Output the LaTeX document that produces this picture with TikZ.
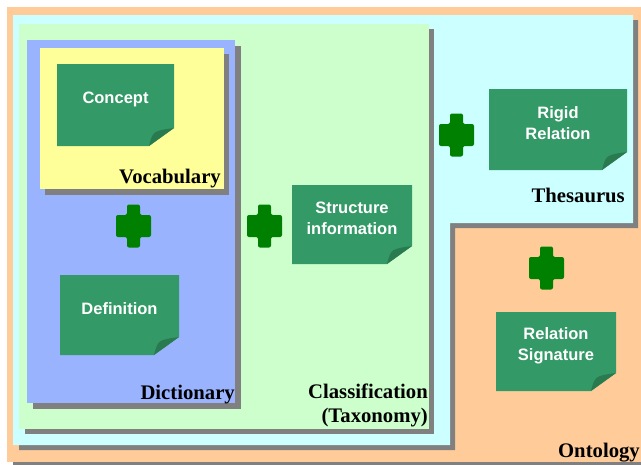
\documentclass[tikz,border=0pt]{standalone}
\usepackage{fontspec}
\setmainfont{Liberation Serif}
\setsansfont{Liberation Sans}
\usepackage{tikz}
\usetikzlibrary{positioning,calc}
\definecolor{ontocol}{HTML}{FFCC99}
\definecolor{thescol}{HTML}{CCFFFF}
\definecolor{classcol}{HTML}{CCFFCC}
\definecolor{dictcol}{HTML}{99B3FF}
\definecolor{vocabcol}{HTML}{FFFF99}
\definecolor{notecol}{HTML}{339966}
\definecolor{foldcol}{HTML}{2A7A50}
\definecolor{pluscol}{HTML}{008000}
\tikzstyle{shadow}=[fill=gray]
\tikzstyle{boxlabel}=[anchor=base east,inner sep=0pt,font=\bfseries\fontsize{20.7}{24}\selectfont]
\tikzstyle{notetext}=[text=white,align=center,inner sep=0pt,font=\sffamily\bfseries\fontsize{16.5}{21}\selectfont]
\tikzstyle{plus}=[fill=pluscol,rounded corners=2pt]

% name, x1, y1, x2, y2, text
\newcommand{\stickynote}[6]{%
  \fill[notecol] (#2,#3) -- (#4,#3) -- (#4,#5-18) -- (#4-25,#5) -- (#2,#5) -- cycle;
  \fill[foldcol] (#4,#5-18) -- (#4-25,#5) .. controls (#4-21,#5-15) .. (#4,#5-18);
  \node[notetext] (#1) at ($(#2,#3)!0.5!(#4,#5)+(0,-6)$) {#6};
}
% name, x, y
\newcommand{\plussign}[3]{%
  \coordinate (#1) at (#2,#3);
  \fill[plus,shift={(#1)}] (-6.5,-21.5) -- (6.5,-21.5) -- (6.5,-11) -- (17.5,-11)
    -- (17.5,11) -- (6.5,11) -- (6.5,21.5) -- (-6.5,21.5) -- (-6.5,11)
    -- (-17.5,11) -- (-17.5,-11) -- (-6.5,-11) -- cycle;
}

\begin{document}
\begin{tikzpicture}[x=1pt,y=-1pt]
  \useasboundingbox (0,0) rectangle (641,464);

  % ontology
  \fill[shadow] (13,13) rectangle (670,470);
  \fill[ontocol] (7,7) rectangle (664,462);

  % thesaurus
  \fill[shadow] (19,20) -- (638,20) -- (638,228) -- (455,228) -- (455,450) -- (19,450) -- cycle;
  \fill[thescol] (13,15) -- (633,15) -- (633,223) -- (450,223) -- (450,445) -- (13,445) -- cycle;

  % classification
  \fill[shadow] (25,29) rectangle (434,434);
  \fill[classcol] (19,24) rectangle (429,429);

  % dictionary
  \fill[shadow] (33,46) rectangle (241,409);
  \fill[dictcol] (27,40) rectangle (235,403);

  % vocabulary
  \fill[shadow] (45,54) rectangle (229,195);
  \fill[vocabcol] (40,48) rectangle (224,189);

  % notes
  \stickynote{concept}{57}{64}{174}{146}{Concept}
  \stickynote{definition}{60}{275}{179}{355}{Definition}
  \stickynote{structure}{292}{185}{412}{264}{Structure\\information}
  \stickynote{rigid}{489}{89}{627}{170}{Rigid\\Relation}
  \stickynote{signature}{496}{312}{616}{391}{Relation\\Signature}

  % plus signs
  \plussign{plusvocab}{133.5}{226}
  \plussign{plusdict}{264.5}{226}
  \plussign{plusthes}{456.5}{135}
  \plussign{plusonto}{546.5}{268}

  % labels
  \node[boxlabel] (vocablabel) at (221,183) {Vocabulary};
  \node[boxlabel] (dictlabel) at (235,399) {Dictionary};
  \node[boxlabel] (classlabel) at (428,398) {Classification};
  \node[boxlabel] (taxlabel) at (428,422) {(Taxonomy)};
  \node[boxlabel] (theslabel) at (625,202) {Thesaurus};
  \node[boxlabel] (ontolabel) at (640,457) {Ontology};
\end{tikzpicture}
\end{document}
